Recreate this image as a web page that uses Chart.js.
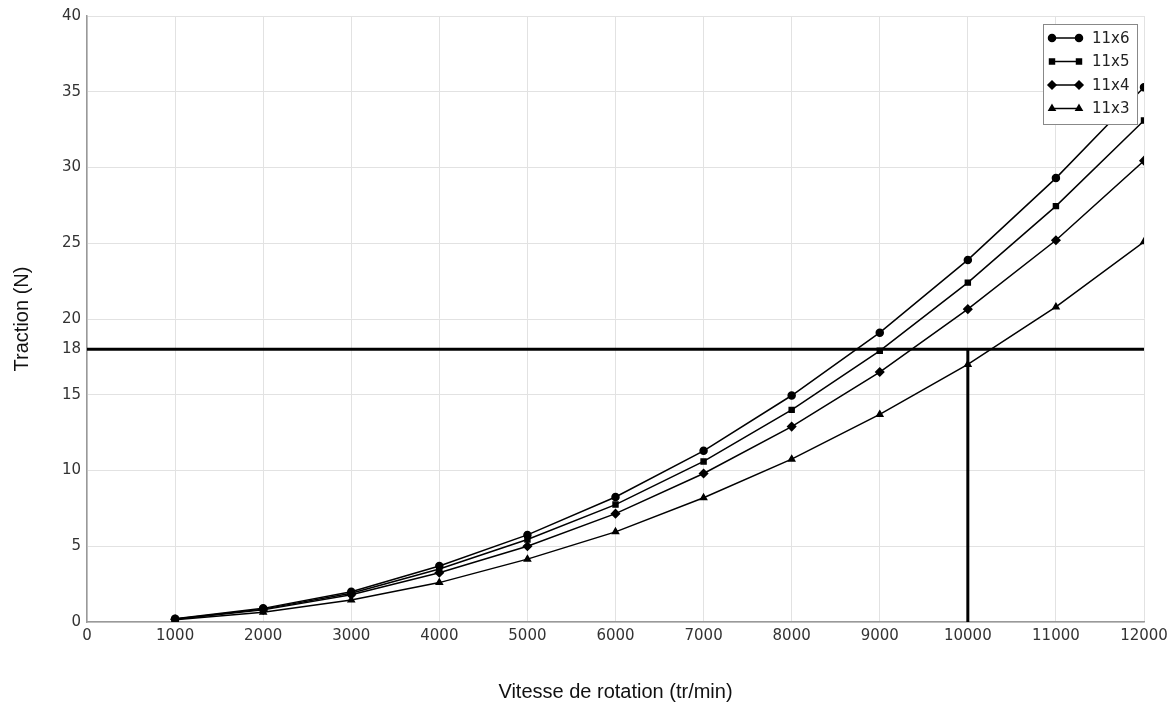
<!DOCTYPE html>
<html lang="fr">
<head>
    <meta charset="UTF-8">
    <title>Traction vs vitesse de rotation</title>
    <script src="https://cdn.jsdelivr.net/npm/chart.js"></script>
    <style>
        html, body { margin: 0; padding: 0; background: #fff; }
        #wrap { width: 1170px; height: 704px; }
    </style>
</head>
<body>
<div id="wrap"><canvas id="tractionChart" width="1170" height="704"></canvas></div>

<script>
    // vitesses (tr/min)
    const speeds = [1000, 2000, 3000, 4000, 5000, 6000, 7000, 8000, 9000, 10000, 11000, 12000];

    // traction (N) par hélice
    const prop11x6 = [0.22, 0.9, 2.0, 3.7, 5.75, 8.25, 11.3, 14.95, 19.1, 23.9, 29.3, 35.3];
    const prop11x5 = [0.2, 0.85, 1.9, 3.5, 5.45, 7.75, 10.6, 14.0, 17.9, 22.4, 27.45, 33.1];
    const prop11x4 = [0.18, 0.8, 1.8, 3.25, 5.0, 7.15, 9.8, 12.9, 16.5, 20.65, 25.2, 30.45];
    const prop11x3 = [0.15, 0.65, 1.45, 2.6, 4.15, 5.95, 8.2, 10.75, 13.7, 17.0, 20.8, 25.1];

    const yTicks = [0, 5, 10, 15, 18, 20, 25, 30, 35, 40];
    const targetTraction = 18;
    const targetSpeed = 10000;

    const toPoints = vals => vals.map((v, i) => ({ x: speeds[i], y: v }));

    function series(label, vals, style, radius) {
        return {
            label: label,
            data: toPoints(vals),
            borderColor: "#000",
            backgroundColor: "#000",
            borderWidth: 1.5,
            pointStyle: style,
            pointRadius: radius,
            pointHoverRadius: radius,
            tension: 0,
            fill: false
        };
    }

    // légende dessinée à la main (trait + marqueur comme matplotlib)
    const lineLegend = {
        id: "lineLegend",
        afterDraw(chart) {
            const ctx = chart.ctx;
            const area = chart.chartArea;
            const items = chart.data.datasets.filter(d => d.inLegend);
            const boxW = 94, rowH = 23.5;
            const left = area.right - 7 - boxW;
            const top = area.top + 8;
            const boxH = items.length * rowH + 6;

            ctx.save();
            ctx.fillStyle = "#fff";
            ctx.fillRect(left, top, boxW, boxH);
            ctx.strokeStyle = "#888";
            ctx.lineWidth = 1;
            ctx.strokeRect(left + 0.5, top + 0.5, boxW, boxH);

            items.forEach((d, i) => {
                const y = top + 14 + i * rowH;
                ctx.strokeStyle = "#000";
                ctx.fillStyle = "#000";
                ctx.lineWidth = 1.5;
                ctx.beginPath();
                ctx.moveTo(left + 9, y);
                ctx.lineTo(left + 36, y);
                ctx.stroke();
                [left + 9, left + 36].forEach(px => {
                    Chart.helpers.drawPoint(ctx, {
                        pointStyle: d.pointStyle,
                        radius: d.pointRadius,
                        borderWidth: 1
                    }, px, y);
                });
                ctx.fillStyle = "#222";
                ctx.font = "15px 'DejaVu Sans'";
                ctx.textBaseline = "middle";
                ctx.textAlign = "left";
                ctx.fillText(d.label, left + 49, y + 1);
            });
            ctx.restore();
        }
    };

    const datasets = [
        series("11x6", prop11x6, "circle", 3.5),
        series("11x5", prop11x5, "rect", 3.5),
        series("11x4", prop11x4, "rectRot", 4),
        series("11x3", prop11x3, "triangle", 3.5),
        {
            label: "seuil",
            data: [{ x: 0, y: targetTraction }, { x: 12000, y: targetTraction }],
            borderColor: "#000",
            borderWidth: 3,
            pointRadius: 0
        },
        {
            label: "vitesse",
            data: [{ x: targetSpeed, y: 0 }, { x: targetSpeed, y: targetTraction }],
            borderColor: "#000",
            borderWidth: 3,
            pointRadius: 0
        }
    ];
    datasets.slice(0, 4).forEach(d => { d.inLegend = true; });

    new Chart(document.getElementById("tractionChart"), {
        type: "line",
        data: { datasets: datasets },
        options: {
            responsive: false,
            animation: false,
            layout: { padding: { top: 16, right: 26, left: 0, bottom: 0 } },
            plugins: {
                legend: { display: false },
                tooltip: { enabled: false }
            },
            scales: {
                x: {
                    type: "linear",
                    min: 0,
                    max: 12000,
                    ticks: {
                        stepSize: 1000,
                        color: "#333",
                        font: { family: "DejaVu Sans", size: 15 },
                        padding: 5,
                        maxRotation: 0,
                        callback: v => String(v)
                    },
                    grid: { color: "#e2e2e2", drawTicks: false },
                    border: { color: "#999", width: 1.5 },
                    title: {
                        display: true,
                        text: "Vitesse de rotation (tr/min)",
                        color: "#111",
                        font: { family: "Liberation Sans", size: 20 },
                        padding: { top: 0, bottom: 0 }
                    },
                    afterFit(scale) {
                        scale.height = 82;
                        scale.paddingLeft = 0;
                        scale.paddingRight = 0;
                    }
                },
                y: {
                    type: "linear",
                    min: 0,
                    max: 40,
                    afterBuildTicks(scale) {
                        scale.ticks = yTicks.map(v => ({ value: v }));
                    },
                    ticks: {
                        color: "#333",
                        font: { family: "DejaVu Sans", size: 15 },
                        padding: 6
                    },
                    grid: { color: "#e2e2e2", drawTicks: false },
                    border: { color: "#999", width: 1.5 },
                    title: {
                        display: true,
                        text: "Traction (N)",
                        color: "#111",
                        font: { family: "Liberation Sans", size: 20 },
                        padding: { top: 10, bottom: 0 }
                    },
                    afterFit(scale) {
                        scale.width = 87;
                        scale.paddingTop = 0;
                        scale.paddingBottom = 0;
                    }
                }
            }
        },
        plugins: [lineLegend]
    });
</script>
</body>
</html>
